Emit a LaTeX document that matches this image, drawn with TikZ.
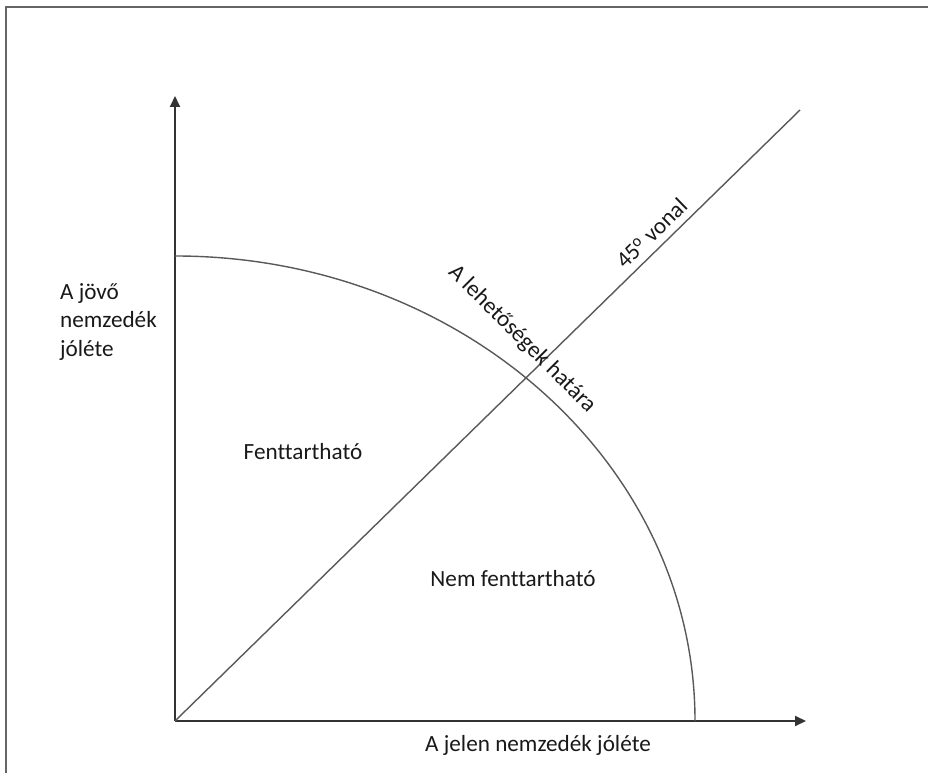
\documentclass[tikz,border=0pt]{standalone}
\usepackage{fontspec}
\setmainfont{Carlito}[Ligatures=CommonOff]
\usetikzlibrary{positioning, arrows.meta}

\begin{document}
\begin{tikzpicture}[x=0.02cm, y=0.02cm, >={Triangle[length=0.22cm, width=0.2cm]},
    axis/.style = {->, draw=black!80, line width=1.1pt},
    thinline/.style = {draw=black!65, line width=0.8pt},
    lbl/.style = {text=black!90, font=\fontsize{13.2}{16}\selectfont, inner sep=1pt}]
    \useasboundingbox (0,0) rectangle (928,773);

    % Frame
    \draw[black!60, line width=1.2pt] (6,0) -- (6,766) -- (928,766);

    % Points
    \coordinate (O) at (175,52);
    \coordinate (Y) at (175,677);
    \coordinate (X) at (806,52);
    \coordinate (D) at (800,663);
    \coordinate (A) at (175,517);

    % Axes and lines
    \path (O) edge[axis] (Y)
              edge[axis] (X)
              edge[thinline] node[lbl, sloped, above, pos=0.78, inner sep=4pt] {45\textsuperscript{o} vonal} (D);
    \draw[thinline] (A) arc[start angle=90, end angle=0, x radius=520, y radius=465];

    % Labels
    \node[lbl, anchor=west, align=left] (jovo) at (58,451) {A jövő\\nemzedék\\jóléte};
    \node[lbl] (jelen) at (538,28) {A jelen nemzedék jóléte};
    \node[lbl] (fennt) at (303,321) {Fenttartható};
    \node[lbl] (nemf) at (513,194) {Nem fenttartható};
    \node[lbl, rotate=-45] (hatar) at (522,434) {A lehetőségek határa};
\end{tikzpicture}
\end{document}
